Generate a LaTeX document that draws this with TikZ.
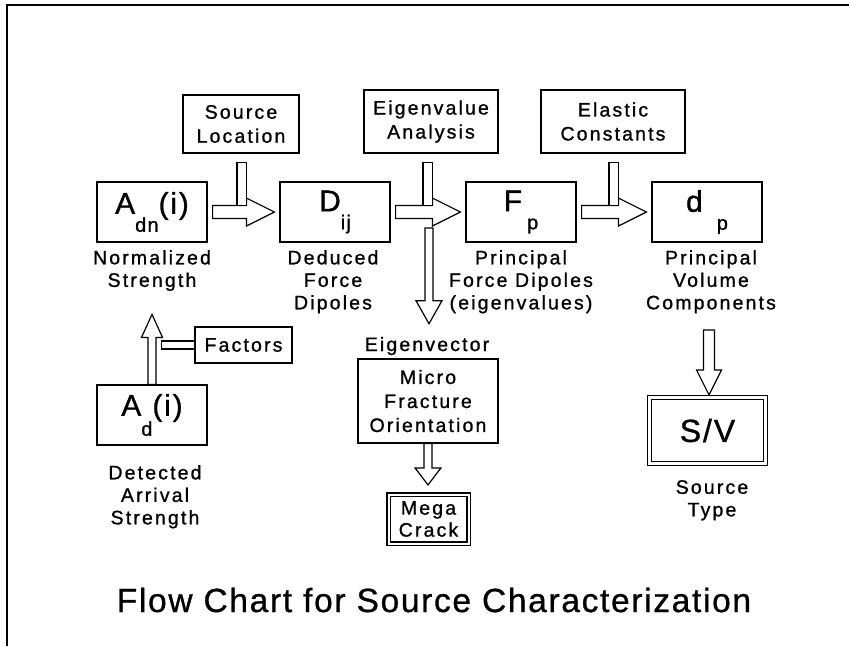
\documentclass[tikz,border=0pt]{standalone}
\usepackage{fontspec}
\setmainfont{Liberation Sans}
\newfontfamily\lblfont{Liberation Sans}[LetterSpace=11,FakeBold=1]
\newfontfamily\symfont{Liberation Sans}[LetterSpace=6,FakeBold=1]
\newfontfamily\ttlfont{Liberation Sans}[LetterSpace=5,FakeBold=0.8]
\usetikzlibrary{calc}

\tikzset{
  box/.style={draw, line width=1.2pt, inner sep=0pt, align=center,
    font=\lblfont\fontsize{19.5}{24}\selectfont},
  mainbox/.style={draw, line width=1.2pt, minimum width=110pt, minimum height=60pt,
    inner sep=0pt, font=\symfont\fontsize{30}{30}\selectfont},
  lab/.style={inner sep=0pt, align=center, anchor=north,
    font=\lblfont\fontsize{19.5}{22.5}\selectfont},
  arr/.style={draw, line width=1.2pt, line join=miter, fill=white},
}

\newcommand\lowsub[1]{\raisebox{-18pt}{\fontsize{20}{20}\selectfont #1}}
\newcommand\HollowRight[5]{\draw[arr] let \p1=(#1), \p2=(#2) in
  (\x1,\y2-#3pt) -- (\x2-#5pt,\y2-#3pt) -- (\x2-#5pt,\y2-#4pt) -- (\x2,\y2)
  -- (\x2-#5pt,\y2+#4pt) -- (\x2-#5pt,\y2+#3pt) -- (\x1,\y2+#3pt) -- cycle;}
\newcommand\HollowDown[5]{\draw[arr] let \p1=(#1), \p2=(#2) in
  (\x2-#3pt,\y1) -- (\x2-#3pt,\y2+#5pt) -- (\x2-#4pt,\y2+#5pt) -- (\x2,\y2)
  -- (\x2+#4pt,\y2+#5pt) -- (\x2+#3pt,\y2+#5pt) -- (\x2+#3pt,\y1) -- cycle;}
\newcommand\HollowUp[5]{\draw[arr] let \p1=(#1), \p2=(#2) in
  (\x2-#3pt,\y1) -- (\x2-#3pt,\y2-#5pt) -- (\x2-#4pt,\y2-#5pt) -- (\x2,\y2)
  -- (\x2+#4pt,\y2-#5pt) -- (\x2+#3pt,\y2-#5pt) -- (\x2+#3pt,\y1) -- cycle;}

\begin{document}
\begin{tikzpicture}[x=1pt,y=-1pt]
\useasboundingbox (0,0) rectangle (849,646);
\fill[white] (0,0) rectangle (849,646);
\draw[line width=2pt] (7,646) -- (7,5) -- (849,5);

% main row
\node[mainbox] (adn) at (152,212) {A\lowsub{dn}(i)};
\node[mainbox] (dij) at (335,212) {D\lowsub{ij}};
\node[mainbox] (fp)  at (521,212) {F\,\lowsub{p}};
\node[mainbox] (dp)  at (707,212) {d\hspace{14pt}\lowsub{p}};

% input boxes
\node[box, minimum width=116pt, minimum height=58pt] (srcloc) at (241,124) {Source\\Location};
\node[box, minimum width=134pt, minimum height=63pt] (eigan) at (431,121.5) {Eigenvalue\\Analysis};
\node[box, minimum width=144pt, minimum height=63pt] (elastic) at (613,121.5) {Elastic\\Constants};

% labels
\node[lab] (ladn) at (152,250) {Normalized\\Strength};
\node[lab] (ldij) at (333,250) {Deduced\\Force\\Dipoles};
\node[lab] (lfp)  at (521,250) {Principal\\Force Dipoles\\(eigenvalues)};
\node[lab] (ldp)  at (711,250) {Principal\\Volume\\Components};

% lower left
\node[box, minimum width=97pt, minimum height=36pt] (factors) at (243.5,345) {Factors};
\node[mainbox] (ad) at (152,415) {A\raisebox{-20pt}{\fontsize{20}{20}\selectfont d}(i)};
\node[lab] (lad) at (155,465) {Detected\\Arrival\\Strength};

% middle
\node[lab, anchor=center] (eigvec) at (427,346) {Eigenvector};
\node[box, minimum width=140pt, minimum height=84pt] (micro) at (428,401) {Micro\\Fracture\\Orientation};
\node[box, double, double distance=2pt, minimum width=80pt, minimum height=49pt,
  font=\lblfont\fontsize{19.5}{22}\selectfont] (mega) at (428.5,519) {Mega\\Crack};

% right
\node[box, double, double distance=3.5pt, minimum width=116pt, minimum height=66pt,
  font=\symfont\fontsize{32}{32}\selectfont] (sv) at (707.5,430.5) {S/V};
\node[lab] (lsv) at (712,480) {Source\\Type};

% title
\node[anchor=base, inner sep=0pt, font=\ttlfont\fontsize{33.5}{40}\selectfont] (title) at (434,612)
  {Flow Chart for Source Characterization};

% horizontal hollow arrows
\coordinate (a1s) at ($(adn.east)+(5,0)$);
\coordinate (a1t) at ($(dij.west)+(-5,0)$);
\coordinate (a2s) at ($(dij.east)+(5,0)$);
\coordinate (a2t) at ($(fp.west)+(-5,0)$);
\coordinate (a3s) at ($(fp.east)+(5,0)$);
\coordinate (a3t) at ($(dp.west)+(-5,0)$);
\HollowRight{a1s}{a1t}{6.5}{14}{28}
\HollowRight{a2s}{a2t}{6.5}{14}{28}
\HollowRight{a3s}{a3t}{6.5}{14}{28}

% input bars
\draw[arr] let \p1=(a1t), \p2=(srcloc.south) in (\x1-37.5pt,\y2-9pt) rectangle (\x1-28pt,\y1+6.5pt);
\draw[arr] let \p1=(a2t), \p2=(eigan.south) in (\x1-37.5pt,\y2-9pt) rectangle (\x1-28pt,\y1+6.5pt);
\draw[arr] let \p1=(a3t), \p2=(elastic.south) in (\x1-37.5pt,\y2-9pt) rectangle (\x1-28pt,\y1+6.5pt);

% eigenvector branch
\coordinate (a4s) at (429,228);
\coordinate (a4t) at ($(a4s |- eigvec.north)+(0,-13)$);
\HollowDown{a4s}{a4t}{4}{13}{23}
\coordinate (a5t) at ($(micro.south |- mega.north)+(0,-9)$);
\HollowDown{micro.south}{a5t}{4}{13}{17}

% source type branch
\coordinate (a6s) at (709,330);
\coordinate (a6t) at ($(a6s |- sv.north)+(0,-2)$);
\HollowDown{a6s}{a6t}{5.5}{12.5}{25}

% detected to normalized
\coordinate (a7t) at ($(ad.north)+(0,-70)$);
\HollowUp{ad.north}{a7t}{4}{10.5}{23}
\draw[arr] let \p1=(factors.west) in (\x1-33pt,\y1+4pt) rectangle (\x1,\y1-4pt);
\end{tikzpicture}
\end{document}
